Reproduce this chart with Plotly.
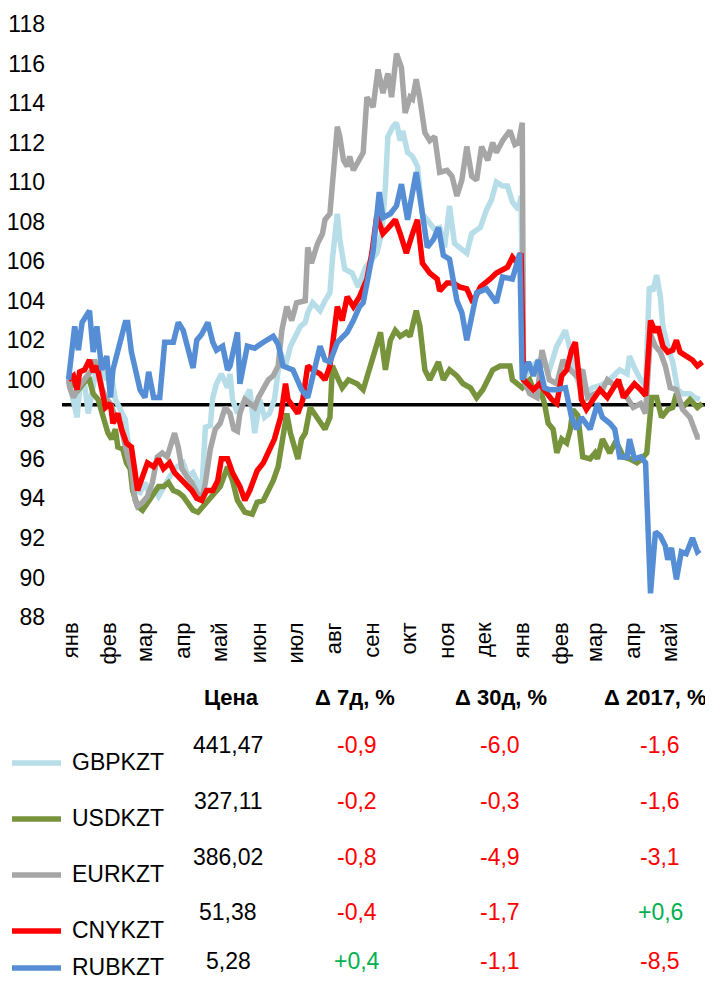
import plotly.graph_objects as go
import pandas as pd

# ---------------- data ----------------
month_labels = ['янв', 'фев', 'мар', 'апр', 'май', 'июн', 'июл', 'авг', 'сен', 'окт',
                'ноя', 'дек', 'янв', 'фев', 'мар', 'апр', 'май']
month_starts = pd.date_range('2016-01-01', '2017-05-01', freq='MS')

# day offsets from 2016-01-01 and index values (100 = start of year)
gbp_days = [-2, 2, 5, 7, 11, 14, 17, 21, 25, 29, 32, 36, 40, 44, 46, 49, 52, 56, 60, 64, 68, 71, 75, 80, 86,
            91, 95, 99, 102, 106, 109, 113, 115, 118, 122, 127, 129, 131, 135, 139, 145, 149, 153, 157, 161,
            165, 170, 174, 178, 182, 186, 190, 192, 196, 202, 206, 210, 212, 216, 218, 222, 228, 233, 239, 244,
            248, 252, 255, 257, 261, 264, 267, 269, 273, 277, 281, 285, 290, 295, 299, 303, 307, 311, 317, 321,
            325, 332, 337, 341, 345, 350, 354, 358, 363, 365, 367, 372, 380, 388, 394, 401, 405, 408, 413, 418,
            423, 429, 435, 440, 445, 451, 453, 457, 462, 466, 469, 472, 475, 478, 480, 484, 488, 492, 496, 502,
            506, 510]
gbp_vals = [100, 99.0, 98.1, 99.5, 99.8, 98.3, 99.3, 100.7, 100.5, 100.0, 100.5, 99.0, 98.5, 98.0, 97.0, 95.8,
            94.4, 94.3, 94.8, 94.1, 94.4, 94.1, 94.6, 95.1, 95.6, 95.8, 95.1, 95.3, 94.9, 94.3, 97.6, 97.7, 99.1,
            99.8, 100.3, 99.6, 100.3, 99.0, 98.3, 98.8, 99.5, 97.3, 99.0, 98.1, 98.3, 99.0, 101.4, 100.7, 101.7,
            102.2, 102.7, 102.9, 103.4, 103.9, 103.5, 104.0, 104.4, 106.1, 108.4, 107.1, 105.6, 105.4, 104.7,
            105.7, 106.1, 106.4, 107.4, 109.8, 112.3, 112.8, 113.0, 112.1, 112.6, 111.5, 111.3, 110.8, 108.4,
            108.0, 107.6, 107.7, 106.7, 108.8, 106.9, 106.6, 106.4, 107.4, 107.7, 108.6, 109.1, 110.0, 109.8,
            109.8, 109.0, 108.6, 109.3, 100.0, 100.6, 101.0, 100.5, 101.7, 102.5, 101.5, 100.5, 99.6, 99.3, 99.6,
            99.7, 99.9, 100.2, 100.5, 100.3, 101.2, 100.6, 100.0, 99.7, 104.7, 104.5, 105.3, 104.2, 102.7, 101.7,
            100.9, 99.5, 99.3, 99.3, 99.1, 99.0]

usd_days = [-2, 2, 6, 11, 15, 18, 22, 25, 28, 30, 33, 36, 38, 42, 45, 48, 50, 54, 58, 62, 66, 71, 75, 79, 83,
            87, 91, 95, 99, 103, 107, 115, 121, 127, 131, 135, 141, 147, 151, 156, 160, 164, 168, 172, 175, 178,
            182, 184, 187, 190, 194, 198, 202, 206, 210, 212, 217, 220, 225, 232, 237, 244, 251, 255, 259, 263,
            267, 272, 275, 280, 283, 287, 291, 298, 302, 307, 313, 318, 324, 329, 334, 342, 348, 356, 358, 366,
            372, 375, 380, 384, 387, 391, 394, 398, 402, 405, 407, 411, 415, 421, 425, 427, 431, 437, 442, 448,
            453, 459, 463, 467, 471, 475, 479, 484, 488, 491, 496, 502, 508, 512]
usd_vals = [100, 99.8, 99.5, 99.9, 100.0, 99.3, 99.0, 98.3, 97.8, 97.3, 97.0, 97.5, 96.6, 96.5, 95.8, 95.5,
            94.4, 93.6, 93.4, 93.8, 94.1, 94.6, 94.6, 94.8, 94.4, 94.3, 94.1, 93.8, 93.4, 93.3, 93.6, 94.1, 94.6,
            95.6, 94.9, 93.9, 93.3, 93.2, 93.8, 93.9, 94.4, 94.9, 95.6, 97.0, 98.3, 97.3, 96.3, 96.0, 97.0, 97.3,
            98.6, 98.2, 97.8, 97.5, 98.1, 100.7, 100.0, 99.6, 100.0, 99.8, 99.5, 101.0, 102.4, 100.5, 102.0,
            102.5, 102.2, 102.4, 102.2, 103.5, 102.7, 100.5, 100.0, 100.9, 100.0, 100.5, 100.2, 99.8, 99.6, 99.1,
            99.5, 100.5, 100.7, 100.7, 100.0, 99.6, 100.0, 99.5, 99.6, 98.8, 97.8, 97.5, 96.3, 97.0, 96.8, 97.5,
            98.5, 98.2, 96.1, 96.0, 96.3, 96.0, 97.0, 96.3, 96.9, 96.1, 96.0, 95.8, 96.0, 96.3, 99.1, 99.1, 98.1,
            98.5, 98.6, 99.3, 98.6, 99.0, 98.6, 98.8]

eur_days = [-2, -1, 2, 6, 13, 17, 19, 22, 25, 28, 32, 36, 40, 44, 46, 49, 52, 54, 58, 62, 66, 70, 74, 78, 82,
            84, 87, 90, 94, 98, 102, 106, 109, 113, 117, 121, 125, 129, 132, 135, 137, 141, 145, 149, 152, 156,
            160, 164, 168, 171, 175, 179, 183, 190, 192, 195, 200, 204, 206, 210, 212, 216, 218, 221, 224, 226,
            229, 233, 237, 240, 245, 249, 253, 257, 260, 264, 268, 271, 275, 277, 280, 283, 287, 291, 295, 299,
            305, 309, 313, 317, 321, 325, 329, 333, 338, 342, 345, 350, 356, 360, 363, 366, 367, 372, 378, 382,
            388, 394, 399, 405, 410, 415, 419, 425, 431, 435, 439, 445, 451, 456, 462, 466, 470, 474, 478, 482,
            486, 491, 496, 502, 508, 510]
eur_vals = [100, 99.6, 99.1, 99.6, 100.2, 100.5, 101.0, 100.6, 99.6, 99.1, 98.8, 98.1, 97.8, 96.6, 96.1, 95.5,
            93.9, 93.6, 93.8, 94.1, 94.8, 96.1, 96.3, 96.1, 96.8, 97.3, 96.6, 95.5, 95.1, 94.8, 94.3, 93.9, 94.8,
            96.5, 97.5, 97.8, 98.6, 98.3, 97.5, 97.4, 98.3, 99.0, 98.8, 98.6, 99.1, 99.6, 100.0, 100.2, 100.7,
            102.5, 103.7, 103.0, 103.9, 104.0, 106.7, 105.9, 106.9, 107.4, 108.1, 108.4, 110.1, 112.8, 112.3,
            111.1, 110.8, 111.3, 110.6, 111.0, 111.5, 114.3, 113.8, 115.7, 114.5, 115.5, 114.3, 116.5, 115.8,
            113.5, 114.3, 114.2, 115.2, 114.2, 112.5, 112.1, 112.3, 110.5, 110.6, 110.3, 109.3, 110.1, 111.8,
            110.3, 110.1, 111.8, 111.1, 112.0, 111.5, 112.1, 112.6, 111.9, 112.0, 113.0, 100.0, 99.3, 99.1, 101.5,
            100.0, 99.8, 101.0, 100.5, 100.2, 100.5, 99.1, 99.3, 99.5, 100.0, 99.8, 99.7, 99.1, 98.6, 98.8, 98.3,
            102.3, 101.7, 101.4, 100.7, 99.6, 99.5, 98.5, 98.1, 97.1, 97.1]

cny_days = [-2, 2, 5, 7, 11, 15, 18, 21, 25, 28, 32, 34, 38, 41, 45, 49, 52, 54, 58, 62, 67, 71, 75, 80, 84,
            90, 94, 98, 102, 106, 110, 115, 119, 122, 127, 131, 137, 141, 145, 151, 156, 161, 165, 170, 174, 176,
            180, 184, 188, 192, 196, 202, 206, 210, 212, 216, 220, 224, 229, 234, 240, 244, 248, 253, 259, 263,
            267, 272, 277, 281, 285, 291, 297, 299, 305, 310, 315, 321, 326, 332, 340, 345, 354, 358, 362, 365,
            367, 375, 380, 386, 390, 394, 398, 402, 406, 409, 411, 414, 418, 423, 429, 435, 440, 444, 448, 453,
            457, 462, 466, 470, 474, 476, 480, 484, 488, 491, 494, 499, 504, 508, 512]
cny_vals = [100, 100.2, 99.5, 100.4, 100.5, 101.0, 100.4, 100.7, 99.5, 98.6, 98.8, 97.8, 98.3, 97.5, 96.8,
            96.6, 95.3, 94.4, 95.1, 95.8, 95.6, 96.0, 95.5, 95.8, 95.3, 94.9, 94.6, 94.4, 94.0, 93.9, 94.4, 94.4,
            94.9, 96.0, 96.0, 95.3, 94.6, 93.9, 94.4, 95.4, 95.8, 96.5, 97.0, 98.1, 99.8, 99.0, 98.6, 98.3, 99.0,
            100.7, 100.5, 100.3, 100.0, 100.7, 101.7, 103.7, 103.0, 104.2, 103.7, 104.2, 105.1, 106.4, 108.3,
            107.4, 107.8, 108.1, 107.4, 106.4, 107.4, 108.1, 105.9, 105.4, 105.1, 104.5, 104.9, 104.9, 104.7,
            104.6, 103.9, 104.7, 105.1, 105.4, 105.7, 106.2, 105.9, 106.4, 100.0, 99.5, 99.8, 99.3, 99.0, 98.8,
            100.2, 100.5, 101.5, 101.9, 100.7, 99.0, 98.5, 99.0, 99.5, 99.1, 99.6, 100.0, 99.1, 99.5, 99.8, 99.5,
            99.2, 103.0, 102.4, 102.7, 101.7, 101.4, 101.5, 102.0, 101.4, 101.2, 101.0, 100.7, 100.9]

rub_days = [-2, 3, 6, 9, 15, 18, 21, 25, 29, 32, 34, 38, 44, 46, 49, 56, 60, 63, 67, 72, 76, 83, 87, 91, 95,
            99, 102, 106, 111, 115, 118, 123, 127, 129, 135, 137, 143, 149, 156, 164, 168, 172, 180, 187, 192,
            198, 202, 206, 210, 216, 224, 229, 234, 237, 241, 245, 250, 253, 259, 264, 268, 273, 275, 280, 285,
            289, 294, 298, 302, 307, 313, 317, 321, 325, 329, 337, 345, 350, 358, 364, 366, 371, 375, 379, 384,
            388, 394, 401, 406, 410, 414, 421, 427, 431, 437, 441, 445, 451, 453, 457, 462, 466, 470, 474, 478,
            482, 484, 487, 491, 495, 499, 504, 508, 510]
rub_vals = [100, 102.7, 101.5, 102.9, 103.5, 101.4, 102.7, 100.5, 101.2, 99.1, 100.5, 101.4, 102.9, 102.9,
            101.4, 99.5, 99.1, 100.4, 99.1, 99.1, 101.9, 101.9, 102.9, 102.5, 101.4, 100.6, 102.0, 102.3, 102.9,
            101.9, 101.5, 101.7, 100.5, 100.7, 102.4, 99.8, 101.7, 101.6, 101.9, 102.2, 101.8, 100.7, 100.5, 99.5,
            99.1, 100.7, 101.7, 101.0, 100.9, 101.9, 102.4, 103.0, 103.7, 103.9, 105.1, 106.5, 109.5, 108.2, 108.4,
            108.8, 109.9, 108.1, 108.8, 110.5, 108.4, 106.7, 107.1, 107.7, 106.3, 106.1, 104.0, 103.4, 102.0,
            103.2, 104.4, 104.6, 103.9, 105.2, 105.1, 106.4, 100.0, 100.9, 100.2, 101.0, 99.6, 99.5, 99.5, 99.6,
            98.1, 97.5, 98.1, 97.5, 98.8, 98.1, 97.8, 97.5, 96.1, 96.1, 97.0, 96.0, 96.1, 95.8, 89.2, 92.3, 92.1,
            91.6, 90.9, 91.5, 89.9, 91.3, 91.2, 92.0, 91.3, 91.4]

baseline_level = 98.74

tickers = ['GBPKZT', 'USDKZT', 'EURKZT', 'CNYKZT', 'RUBKZT']
prices = ['441,47', '327,11', '386,02', '51,38', '5,28']
chg_7d = [-0.9, -0.2, -0.8, -0.4, 0.4]
chg_30d = [-6.0, -0.3, -4.9, -1.7, -1.1]
chg_ytd = [-1.6, -1.6, -3.1, 0.6, -8.5]
headers = ['Цена', 'Δ 7д, %', 'Δ 30д, %', 'Δ 2017, %']

# ---------------- styling ----------------
colors = ['#B7DEE8', '#77933C', '#A6A6A6', '#FF0000', '#558ED5']
FONT = 'Liberation Sans, Arial, sans-serif'
PAGE_OFF = 8                     # default body margin of the html page
W, H = 713 - PAGE_OFF, 981 - PAGE_OFF
ML, MR, MT, MB = 54, 1, 16, 364
PW, PH = W - ML - MR, H - MT - MB

base = pd.Timestamp('2016-01-01')


def to_dates(days):
    return [base + pd.Timedelta(days=d) for d in days]


def px_x(x):   # screen pixel -> paper x
    return (x - PAGE_OFF - ML) / PW


def px_y(y):   # screen pixel -> paper y
    return (H - MB - (y - PAGE_OFF)) / PH


series = [
    (tickers[0], gbp_days, gbp_vals),
    (tickers[1], usd_days, usd_vals),
    (tickers[2], eur_days, eur_vals),
    (tickers[3], cny_days, cny_vals),
    (tickers[4], rub_days, rub_vals),
]

fig = go.Figure()
for (name, d, v), c in zip(series, colors):
    fig.add_trace(go.Scatter(x=to_dates(d), y=v, mode='lines', name=name,
                             line=dict(color=c, width=5.5, shape='linear'),
                             showlegend=False, hoverinfo='skip'))

fig.add_shape(type='line', xref='paper', x0=0, x1=1, yref='y',
              y0=baseline_level, y1=baseline_level,
              line=dict(color='black', width=3.5), layer='below')

# ---------------- table ----------------
annotations = []
header_x = [231, 355, 501, 655]
for hx, htxt in zip(header_x, headers):
    annotations.append(dict(x=px_x(hx), y=px_y(697), xref='paper', yref='paper', text='<b>' + htxt + '</b>',
                            showarrow=False, xanchor='center', yanchor='middle',
                            font=dict(family=FONT, size=22, color='black')))

row_num_y = [745, 801, 857, 912, 961]
row_lbl_y = [762, 818, 874, 930, 967]
col_x = [228, 357, 500, 660]


def fmt(v):
    return ('+' if v > 0 else '') + f'{v:.1f}'.replace('.', ',')


def clr(v):
    return '#00B050' if v > 0 else '#FF0000'


shapes = []
for i in range(5):
    shapes.append(dict(type='line', xref='paper', yref='paper',
                       x0=px_x(12), x1=px_x(61), y0=px_y(row_lbl_y[i] + 1), y1=px_y(row_lbl_y[i] + 1),
                       line=dict(color=colors[i], width=5.5)))
    annotations.append(dict(x=px_x(70), y=px_y(row_lbl_y[i]), xref='paper', yref='paper', text=tickers[i],
                            showarrow=False, xanchor='left', yanchor='middle',
                            font=dict(family=FONT, size=23, color='black')))
    annotations.append(dict(x=px_x(col_x[0]), y=px_y(row_num_y[i]), xref='paper', yref='paper',
                            text=prices[i], showarrow=False, xanchor='center', yanchor='middle',
                            font=dict(family=FONT, size=23, color='black')))
    for cx, vals in zip(col_x[1:], [chg_7d, chg_30d, chg_ytd]):
        annotations.append(dict(x=px_x(cx), y=px_y(row_num_y[i]), xref='paper', yref='paper',
                                text=fmt(vals[i]), showarrow=False, xanchor='center', yanchor='middle',
                                font=dict(family=FONT, size=23, color=clr(vals[i]))))

for s in shapes:
    fig.add_shape(**s)

fig.update_layout(
    width=W, height=H,
    margin=dict(l=ML, r=MR, t=MT, b=MB, pad=0, autoexpand=False),
    paper_bgcolor='white', plot_bgcolor='white',
    showlegend=False,
    annotations=annotations,
    xaxis=dict(type='date', range=['2015-12-24 17:00', '2017-06-03 21:00'],
               tickvals=list(month_starts), ticktext=month_labels, tickangle=-90,
               showgrid=False, zeroline=False, showline=False, ticks='',
               tickfont=dict(family=FONT, size=22, color='black'), fixedrange=True),
    yaxis=dict(range=[88, 118], dtick=2, tick0=88, showgrid=False, zeroline=False, showline=False,
               ticks='', ticklabelstandoff=16,
               tickfont=dict(family=FONT, size=23, color='black'), fixedrange=True),
)

fig.write_html('out.html')
